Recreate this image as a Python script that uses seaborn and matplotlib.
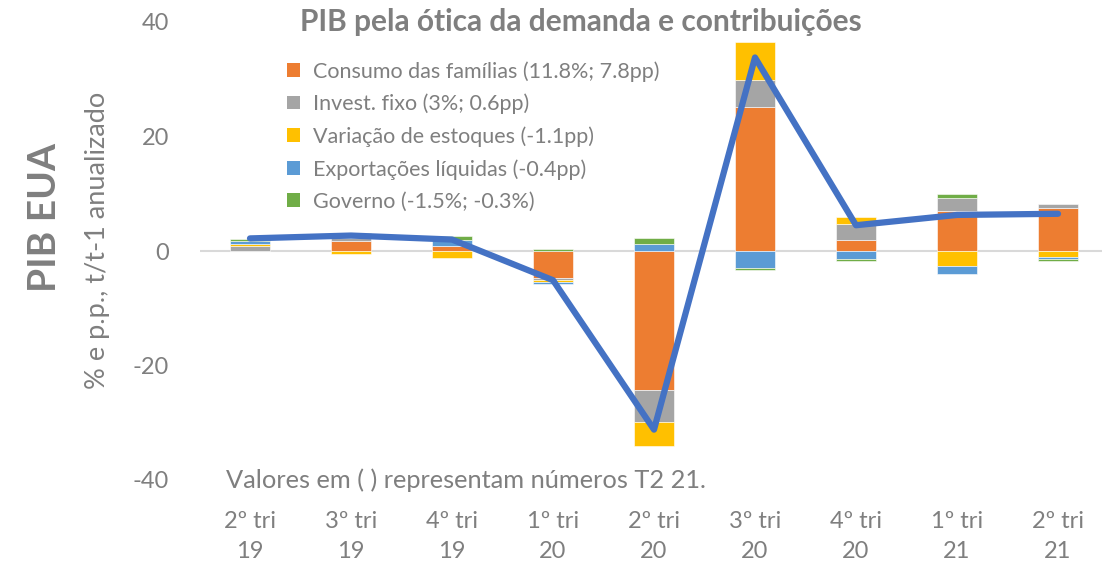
import matplotlib
matplotlib.use("Agg")
import matplotlib.pyplot as plt
import seaborn as sns
import numpy as np
import pandas as pd
from matplotlib.patches import Patch

quarters = ["2º tri\n19", "3º tri\n19", "4º tri\n19", "1º tri\n20", "2º tri\n20",
            "3º tri\n20", "4º tri\n20", "1º tri\n21", "2º tri\n21"]
consumo = [0.0, 1.8, 0.8, -4.8, -24.3, 25.1, 1.9, 7.0, 7.45]
invest = [0.8, 0.5, 0.0, -0.3, -5.5, 4.8, 2.9, 2.2, 0.7]
estoques = [0.35, -0.45, -1.2, -0.35, -4.2, 6.6, 1.1, -2.7, -1.05]
exportacoes = [0.6, 0.6, 1.2, -0.4, 1.2, -3.0, -1.4, -1.4, -0.3]
governo = [0.4, 0.3, 0.7, 0.4, 1.0, -0.4, -0.35, 0.75, -0.35]
pib = [2.2, 2.7, 2.0, -5.1, -31.2, 33.8, 4.5, 6.3, 6.5]

labels = ["Consumo das famílias (11.8%; 7.8pp)", "Invest. fixo (3%; 0.6pp)",
          "Variação de estoques (-1.1pp)", "Exportações líquidas (-0.4pp)",
          "Governo (-1.5%; -0.3%)"]
colors = ["#ED7D31", "#A5A5A5", "#FFC000", "#5B9BD5", "#70AD47"]

sns.set_theme(style="white")
plt.rcParams['font.family'] = ['Lato', 'DejaVu Sans']
grey = "#7F7F7F"

fig = plt.figure(figsize=(11.02, 5.76), dpi=100)
ax = fig.add_axes([199.5 / 1102, 1 - 480 / 576, 909 / 1102, 458 / 576])

x = np.arange(len(quarters))
pos_base = np.zeros(len(quarters))
neg_base = np.zeros(len(quarters))
for series, color in zip([consumo, invest, estoques, exportacoes, governo], colors):
    vals = np.array(series)
    bottom = np.where(vals >= 0, pos_base, neg_base)
    ax.bar(x, vals, bottom=bottom, width=0.4, color=color, edgecolor="white",
           linewidth=0.4, zorder=2)
    pos_base += np.clip(vals, 0, None)
    neg_base += np.clip(vals, None, 0)

df = pd.DataFrame({"x": x, "pib": pib})
sns.lineplot(data=df, x="x", y="pib", ax=ax, color="#4472C4", linewidth=4.5,
             solid_capstyle="round", zorder=3)

ax.axhline(0, color="#D9D9D9", linewidth=1.5, zorder=1)
ax.set_xlim(-0.5, 8.5)
ax.set_ylim(-40, 40)
ax.set_yticks([-40, -20, 0, 20, 40])
ax.set_yticklabels(["-40", "-20", "0", "20", "40"])
ax.set_xticks(x)
ax.set_xticklabels(quarters, linespacing=1.55)
ax.tick_params(axis="y", labelsize=17, colors=grey, pad=22, length=0)
ax.tick_params(axis="x", labelsize=17, colors=grey, pad=22, length=0)
ax.set_xlabel("")
ax.set_ylabel("")
for s in ax.spines.values():
    s.set_visible(False)
ax.patch.set_alpha(0)

fig.text(581 / 1102, 1 - 22 / 576, "PIB pela ótica da demanda e contribuições",
         ha="center", va="center", fontsize=21.5, fontweight="bold", color=grey)
fig.text(45 / 1102, 1 - 218 / 576, "PIB EUA", rotation=90, ha="center", va="center",
         fontsize=28, fontweight="bold", color=grey)
fig.text(98 / 1102, 1 - 240 / 576, "% e p.p., t/t-1 anualizado", rotation=90,
         ha="center", va="center", fontsize=19.5, color=grey)
fig.text(226 / 1102, 1 - 480 / 576, "Valores em ( ) representam números T2 21.",
         ha="left", va="center", fontsize=18.3, color=grey)

handles = [Patch(facecolor=c, edgecolor="none") for c in colors]
leg = fig.legend(handles, labels, loc="upper left", bbox_to_anchor=(287 / 1102, 1 - 61 / 576),
                 frameon=False, fontsize=15.5, handlelength=0.6, handleheight=0.6,
                 handletextpad=0.6, labelspacing=0.56, borderaxespad=0, borderpad=0)
for t in leg.get_texts():
    t.set_color(grey)

fig.savefig("out.png", dpi=100)
